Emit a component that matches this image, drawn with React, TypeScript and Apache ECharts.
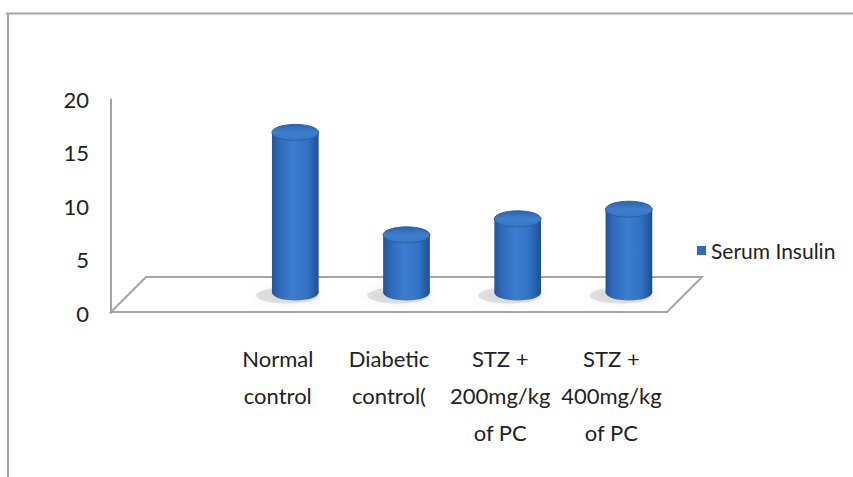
import React, { useEffect, useRef } from "react";
import * as echarts from "echarts";

const categories = ["", "Normal\ncontrol", "Diabetic\ncontrol(", "STZ +\n200mg/kg\nof PC", "STZ +\n400mg/kg\nof PC"];
const serumInsulin: (number | null)[] = [null, 15, 5.4, 6.9, 7.8];
const seriesName = "Serum Insulin";
const yMin = 0;
const yMax = 20;
const yInterval = 5;

const FONT = "Lato, 'Open Sans', sans-serif";
const DEPTH_X = 35;
const DEPTH_Y = 35;

export default function App() {
  const ref = useRef<HTMLDivElement>(null);
  useEffect(() => {
    if (!ref.current) return;
    const chart = echarts.init(ref.current, undefined, { renderer: "svg" });
    const barData = serumInsulin
      .map((v, i) => (v == null ? null : [i, v]))
      .filter((d) => d != null);

    const bodyGrad = () =>
      new echarts.graphic.LinearGradient(0, 0, 1, 0, [
        { offset: 0, color: "#22549a" },
        { offset: 0.15, color: "#2d69b8" },
        { offset: 0.45, color: "#3c7dd0" },
        { offset: 0.75, color: "#3273c4" },
        { offset: 1, color: "#1f4f90" },
      ]);

    chart.setOption({
      animation: false,
      backgroundColor: "#ffffff",
      graphic: [
        { type: "line", shape: { x1: 6, y1: 13.5, x2: 853, y2: 13.5 }, style: { stroke: "#a3a3a3", lineWidth: 2 }, silent: true },
        { type: "line", shape: { x1: 8, y1: 13, x2: 8, y2: 477 }, style: { stroke: "#a3a3a3", lineWidth: 2 }, silent: true },
      ],
      grid: { left: 111, top: 99.5, right: 186, bottom: 164, containLabel: false },
      legend: {
        data: [{ name: seriesName, icon: "rect" }],
        left: 692,
        top: 235,
        itemWidth: 9,
        itemHeight: 9,
        textStyle: { fontFamily: FONT, fontSize: 21, color: "#222" },
        selectedMode: false,
      },
      xAxis: {
        type: "category",
        data: categories,
        axisLine: { show: false },
        axisTick: { show: false },
        splitLine: { show: false },
        axisLabel: {
          interval: 0,
          margin: 27,
          fontFamily: FONT,
          fontSize: 22,
          lineHeight: 37,
          color: "#222",
          align: "center",
        },
      },
      yAxis: {
        type: "value",
        min: yMin,
        max: yMax,
        interval: yInterval,
        axisLine: { show: true, lineStyle: { color: "#a3a3a3", width: 2 } },
        axisTick: { show: false },
        splitLine: { show: false },
        axisLabel: { margin: 22, fontFamily: FONT, fontSize: 22, color: "#222" },
      },
      series: [
        {
          type: "custom",
          name: "floor",
          silent: true,
          z: 1,
          data: [[0, 0]],
          renderItem: (params: any, api: any) => {
            const cs = params.coordSys;
            const fl = api.coord([0, 0]);
            const x0 = cs.x;
            const x1 = cs.x + cs.width;
            const y0 = fl[1] - 1;
            return {
              type: "polygon",
              shape: {
                points: [
                  [x0, y0],
                  [x1, y0],
                  [x1 + DEPTH_X, y0 - DEPTH_Y],
                  [x0 + DEPTH_X, y0 - DEPTH_Y],
                ],
              },
              style: { fill: "#ffffff", stroke: "#a6a6a6", lineWidth: 2 },
            };
          },
        },
        {
          type: "custom",
          name: seriesName,
          z: 2,
          itemStyle: { color: "#2e6bbd" },
          data: barData,
          renderItem: (params: any, api: any) => {
            const idx = api.value(0);
            const v = api.value(1);
            const base = api.coord([idx, 0]);
            const top = api.coord([idx, v]);
            const bw = api.size([1, 0])[0] * 0.42;
            const dx = DEPTH_X / 2;
            const dy = -DEPTH_Y / 2 - 3;
            const cx = base[0] + dx;
            const by = base[1] + dy;
            const ty = top[1] + dy;
            const rx = bw / 2;
            const ry = 8;
            return {
              type: "group",
              children: [
                {
                  type: "ellipse",
                  shape: { cx: cx - 8, cy: by + 3, rx: rx + 8, ry: ry },
                  style: { fill: "rgba(130,130,130,0.22)", shadowBlur: 8, shadowColor: "rgba(130,130,130,0.5)" },
                },
                {
                  type: "ellipse",
                  shape: { cx, cy: by, rx, ry },
                  style: { fill: bodyGrad() },
                },
                {
                  type: "rect",
                  shape: { x: cx - rx, y: ty, width: bw, height: by - ty },
                  style: { fill: bodyGrad() },
                },
                {
                  type: "ellipse",
                  shape: { cx, cy: ty, rx, ry },
                  style: {
                    fill: new echarts.graphic.LinearGradient(0, 0, 0, 1, [
                      { offset: 0, color: "#2a63ae" },
                      { offset: 0.5, color: "#3d7ecd" },
                      { offset: 1, color: "#3676c6" },
                    ]),
                    stroke: "#2a60a8",
                    lineWidth: 1,
                  },
                },
              ],
            };
          },
        },
      ],
    });
    return () => chart.dispose();
  }, []);
  return (
    <div
      ref={ref}
      style={{ position: "absolute", left: 0, top: 0, width: 853, height: 477 }}
    />
  );
}
